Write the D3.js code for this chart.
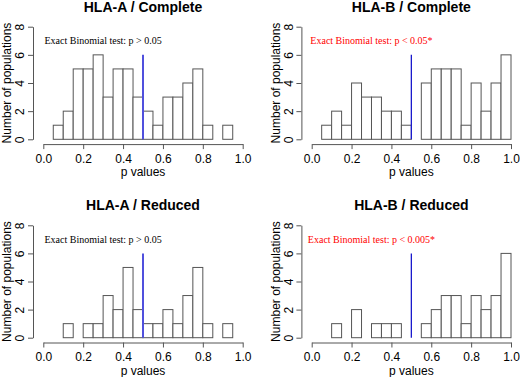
<!DOCTYPE html>
<html><head><meta charset="utf-8">
<script src="https://cdn.jsdelivr.net/npm/d3@7"></script>
<style>body{margin:0;background:#fff}svg{display:block}</style>
</head><body>
<script>
const binEdges = d3.range(0, 1.0001, 0.05).map(v => +v.toFixed(2));
const titles = ["HLA-A / Complete", "HLA-B / Complete", "HLA-A / Reduced", "HLA-B / Reduced"];
const notes = ["Exact Binomial test: p > 0.05", "Exact Binomial test: p < 0.05*", "Exact Binomial test: p > 0.05", "Exact Binomial test: p < 0.005*"];
const noteColors = ["#000000", "#ff0000", "#000000", "#ff0000"];
const countsAComplete = [0,1,2,5,5,6,3,5,5,3,2,1,3,3,4,5,1,0,1,0];
const countsBComplete = [0,1,2,1,4,3,3,2,2,1,0,4,5,5,5,1,4,2,4,6];
const countsAReduced  = [0,0,1,0,1,1,3,2,5,2,1,1,2,1,3,5,1,0,1,0];
const countsBReduced  = [0,0,1,0,2,0,1,1,1,0,0,1,2,3,3,1,3,2,3,6];
const allCounts = [countsAComplete, countsBComplete, countsAReduced, countsBReduced];
const xTicks = [0, 0.2, 0.4, 0.6, 0.8, 1.0];
const yTicks = [0, 2, 4, 6, 8];
const refLineX = 0.5, refLineTop = 6;
const lineColors = ["#5050dd", "#1a1acc", "#5050dd", "#1a1acc"];
const lineWidths = [2, 1.3, 2, 1.3];

const W = 520, H = 377;
const svg = d3.select("body").append("svg").attr("width", W).attr("height", H);

const panels = [
  {x0: 43.3, x1: 242.7, yb: 139.3, yt: 26.7},
  {x0: 311.7, x1: 511, yb: 139.3, yt: 26.7},
  {x0: 43.3, x1: 242.7, yb: 337.7, yt: 225.3},
  {x0: 311.7, x1: 511, yb: 337.7, yt: 225.3}
];

panels.forEach((p, i) => {
  const g = svg.append("g");
  const x = d3.scaleLinear().domain([0, 1]).range([p.x0, p.x1]);
  const y = d3.scaleLinear().domain([0, 8]).range([p.yb, p.yt]);
  const counts = allCounts[i];
  const bins = counts.map((c, k) => ({x0: binEdges[k], x1: binEdges[k + 1], c}));

  g.selectAll("rect.bar").data(bins.filter(b => b.c > 0)).join("rect")
    .attr("class", "bar")
    .attr("x", d => x(d.x0)).attr("width", d => x(d.x1) - x(d.x0))
    .attr("y", d => y(d.c)).attr("height", d => y(0) - y(d.c))
    .attr("fill", "#fff").attr("stroke", "#555").attr("stroke-width", 1);

  // reference line
  g.append("line")
    .attr("x1", x(refLineX)).attr("x2", x(refLineX))
    .attr("y1", y(0)).attr("y2", y(refLineTop))
    .attr("stroke", lineColors[i]).attr("stroke-width", lineWidths[i]);

  // x axis
  const xAxisY = p.yb + 4.8;
  const xa = g.append("g").attr("transform", `translate(0,${xAxisY})`)
    .call(d3.axisBottom(x).tickValues(xTicks).tickFormat(d3.format(".1f")).tickSize(5).tickSizeOuter(0));
  xa.select(".domain").attr("stroke", "#555");
  xa.selectAll(".tick line").attr("stroke", "#555");
  xa.selectAll("text").attr("font-family", "Liberation Sans, Arial, sans-serif").attr("font-size", 12).attr("fill", "#000").attr("dy", "0.9em");

  // y axis
  const yAxisX = p.x0 - 10.3;
  const ya = g.append("g").attr("transform", `translate(${yAxisX},0)`)
    .call(d3.axisLeft(y).tickValues(yTicks).tickSize(5).tickSizeOuter(0).tickPadding(8));
  ya.select(".domain").attr("stroke", "#555");
  ya.selectAll(".tick line").attr("stroke", "#555");
  ya.selectAll("text").attr("font-family", "Liberation Sans, Arial, sans-serif").attr("font-size", 12).attr("fill", "#000")
    .attr("text-anchor", "middle").attr("x", -13).attr("dy", "0.35em")
    .attr("transform", "rotate(-90)")
    .each(function() {
      const t = d3.select(this);
      // rotate around its own position
      const tr = d3.select(this.parentNode);
    });
  ya.selectAll(".tick text").attr("transform", "translate(-13,0) rotate(-90)").attr("x", 0).attr("dy", "0.35em");

  // title
  g.append("text").attr("x", (p.x0 + p.x1) / 2).attr("y", p.yt - 15)
    .attr("text-anchor", "middle").attr("font-family", "Liberation Sans, Arial, sans-serif")
    .attr("font-weight", "bold").attr("font-size", 14).text(titles[i]);

  // x label
  g.append("text").attr("x", (p.x0 + p.x1) / 2).attr("y", p.yb + 37)
    .attr("text-anchor", "middle").attr("font-family", "Liberation Sans, Arial, sans-serif")
    .attr("font-size", 12).text("p values");

  // y label
  g.append("text").attr("transform", `translate(${yAxisX - 26},${(p.yb + p.yt) / 2}) rotate(-90)`)
    .attr("text-anchor", "middle").attr("dy", "0.35em").attr("font-family", "Liberation Sans, Arial, sans-serif")
    .attr("font-size", 12).text("Number of populations");

  // annotation
  g.append("text").attr("x", x(0.3)).attr("y", y(7)).attr("dy", "0.35em")
    .attr("text-anchor", "middle").attr("font-family", "Liberation Serif, Times New Roman, serif")
    .attr("font-size", 10).attr("fill", noteColors[i]).text(notes[i]);
});
</script>
</body></html>
